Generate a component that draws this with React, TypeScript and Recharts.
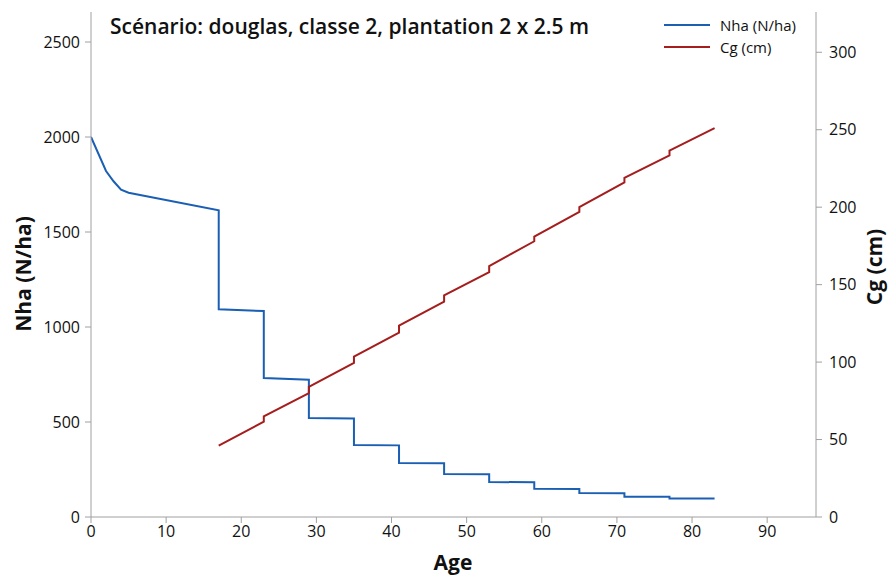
import React from 'react';
import { LineChart, Line, XAxis, YAxis, Legend } from 'recharts';

const nhaAge = [0, 2, 3, 4, 5, 17, 17, 23, 23, 29, 29, 35, 35, 41, 41, 47, 47, 53, 53, 59, 59, 65, 65, 71, 71, 77, 77, 83];
const nhaValues = [2000, 1821, 1767, 1723, 1707, 1614, 1093, 1084, 731, 723, 521, 519, 379, 377, 284, 283, 226, 225, 184, 183, 149, 148, 126, 125, 107, 106, 98, 97];

const cgAge = [17, 23, 23, 29, 29, 35, 35, 41, 41, 47, 47, 53, 53, 59, 59, 65, 65, 71, 71, 77, 77, 83];
const cgValues = [46, 61.5, 65, 80, 84, 99.5, 103.5, 119, 123.5, 139, 143, 158, 162, 178, 181, 197, 200, 216, 219, 233.5, 236.5, 251];

const xTicks = [0, 10, 20, 30, 40, 50, 60, 70, 80, 90];
const leftTicks = [0, 500, 1000, 1500, 2000, 2500];
const rightTicks = [0, 50, 100, 150, 200, 250, 300];

const seriesNames = ['Nha (N/ha)', 'Cg (cm)'];
const title = 'Scénario: douglas, classe 2, plantation 2 x 2.5 m';
const xTitle = 'Age';
const leftTitle = 'Nha (N/ha)';
const rightTitle = 'Cg (cm)';

const BLUE = '#1a5fb4';
const RED = '#a51d1d';
const AXIS = '#a0a0a0';
const TEXT = '#111111';
const FONT = '"Open Sans", "Noto Sans", sans-serif';

const nhaData = nhaAge.map((a, i) => ({ age: a, nha: nhaValues[i] }));
const cgData = cgAge.map((a, i) => ({ age: a, cg: cgValues[i] }));

const tickStyle = { fill: TEXT, fontSize: 16, fontFamily: FONT };
const titleStyle = { fill: TEXT, fontSize: 21, fontWeight: 700, fontFamily: FONT };

const LegendContent = () => (
  <div style={{ fontFamily: FONT, fontSize: 15, color: TEXT }}>
    {seriesNames.map((n, i) => (
      <div key={n} style={{ display: 'flex', alignItems: 'center', height: 22 }}>
        <svg width={56} height={10} style={{ display: 'block' }}>
          <line x1={0} x2={46} y1={5} y2={5} stroke={i === 0 ? BLUE : RED} strokeWidth={2} />
        </svg>
        <span>{n}</span>
      </div>
    ))}
  </div>
);

export default function App() {
  return (
    <div style={{ position: 'absolute', left: 0, top: 0, width: 890, height: 575, background: '#fff' }}>
      <LineChart width={890} height={575} margin={{ top: 12, right: 0, left: 0, bottom: 0 }}>
        <XAxis
          xAxisId="b"
          dataKey="age"
          type="number"
          domain={[0, 96.5]}
          ticks={xTicks}
          allowDataOverflow
          height={58}
          stroke={AXIS}
          tickSize={6}
          tickMargin={3}
          tick={tickStyle}
        />
        <XAxis xAxisId="t" orientation="top" type="number" domain={[0, 96.5]} height={0} tick={false} tickLine={false} stroke={AXIS} />
        <YAxis
          yAxisId="l"
          type="number"
          domain={[0, 2658]}
          ticks={leftTicks}
          allowDataOverflow
          width={91}
          stroke={AXIS}
          tickSize={6}
          tickMargin={5}
          tick={tickStyle}
        />
        <YAxis
          yAxisId="r"
          orientation="right"
          type="number"
          domain={[0, 326]}
          ticks={rightTicks}
          allowDataOverflow
          width={74}
          stroke={AXIS}
          tickSize={6}
          tickMargin={7}
          tick={tickStyle}
        />
        <Legend verticalAlign="middle" align="center" layout="horizontal" content={LegendContent}
          wrapperStyle={{ position: 'absolute', top: 14, left: 664, width: 160 }} />
        <Line xAxisId="b" yAxisId="l" data={nhaData} dataKey="nha" name={seriesNames[0]} stroke={BLUE} strokeWidth={2} dot={false} isAnimationActive={false} type="linear" />
        <Line xAxisId="b" yAxisId="r" data={cgData} dataKey="cg" name={seriesNames[1]} stroke={RED} strokeWidth={2} dot={false} isAnimationActive={false} type="linear" />
        <text x={110} y={34} fill={TEXT} fontSize={21} fontWeight={600} fontFamily={FONT}>{title}</text>
        <text x={453} y={570} textAnchor="middle" style={titleStyle}>{xTitle}</text>
        <text x={0} y={0} transform="translate(31, 274) rotate(-90)" textAnchor="middle" style={titleStyle}>{leftTitle}</text>
        <text x={0} y={0} transform="translate(882, 267) rotate(-90)" textAnchor="middle" style={titleStyle}>{rightTitle}</text>
      </LineChart>
    </div>
  );
}
